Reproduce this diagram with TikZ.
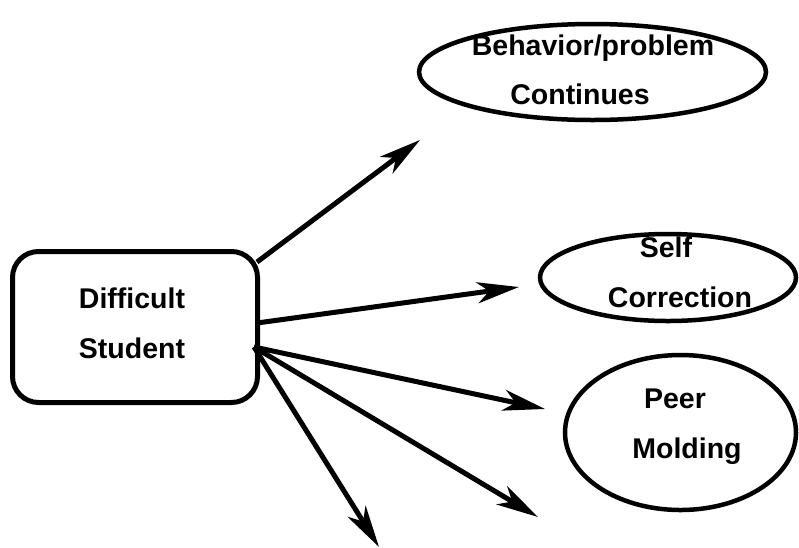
\documentclass[tikz,border=0pt]{standalone}
\usepackage{fontspec}
\setmainfont{Liberation Sans}
\usetikzlibrary{arrows.meta,shapes.geometric,calc}
\begin{document}
\begin{tikzpicture}[x=1pt,y=-1pt,
  lbl/.style={anchor=base,inner sep=0pt,font=\fontsize{28.5}{34}\selectfont\bfseries},
  bubble/.style={draw,ellipse,line width=4.5pt,inner sep=0pt},
  startbox/.style={draw,line width=5pt,rounded corners=26pt,inner sep=0pt},
  link/.style={line width=5pt,-{Stealth[length=42pt,width=21pt,inset=12pt]}}]
\useasboundingbox (0,0) rectangle (799,547);

% central box
\node[startbox,minimum width=245pt,minimum height=151pt] (student) at (135,327) {};
\node[lbl] (d1) at (132,308) {Difficult};
\node[lbl] (d2) at (132,358) {Student};

% outcomes
\node[bubble,minimum width=347pt,minimum height=96pt] (cont) at (592.5,72) {};
\node[lbl] (c1) at (593,55) {Behavior/problem};
\node[lbl] (c2) at (580,104) {Continues};

\node[bubble,minimum width=256pt,minimum height=87pt] (self) at (668,277.5) {};
\node[lbl] (s1) at (666,257) {Self};
\node[lbl] (s2) at (680,307) {Correction};

\node[bubble,minimum width=231pt,minimum height=155pt] (peer) at (680.5,432.5) {};
\node[lbl] (p1) at (675,408) {Peer};
\node[lbl] (p2) at (687,458) {Molding};

% arrow tips
\coordinate (t1) at (420,140);
\coordinate (t2) at (519,287);
\coordinate (t3) at (545,409);
\coordinate (t4) at (538,517);
\coordinate (t5) at (379,547);

\draw[link] ($(student.east)+(-3,-65)$) -- (t1);
\draw[link] ($(student.east)+(-3,-4)$) -- (t2);
\draw[link] ($(student.east)+(-6,20)$) -- (t3);
\draw[link] ($(student.east)+(-6,20)$) -- (t4);
\draw[link] ($(student.east)+(-6,20)$) -- (t5);
\end{tikzpicture}
\end{document}
